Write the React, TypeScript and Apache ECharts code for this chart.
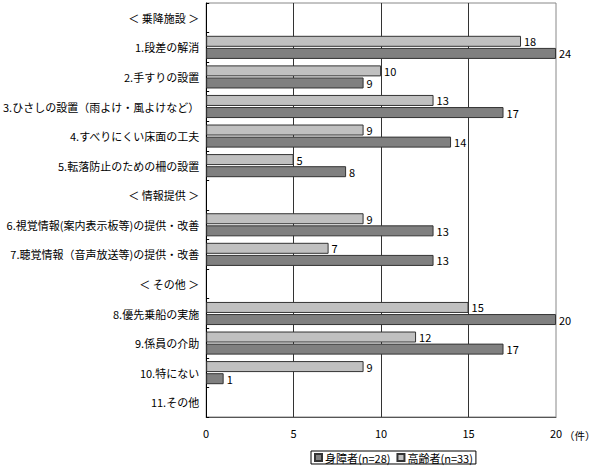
import React, { useEffect, useRef } from "react";
import * as echarts from "echarts";

const categories = [
  "＜ 乗降施設 ＞",
  "1.段差の解消",
  "2.手すりの設置",
  "3.ひさしの設置（雨よけ・風よけなど）",
  "4.すべりにくい床面の工夫",
  "5.転落防止のための柵の設置",
  "＜ 情報提供 ＞",
  "6.視覚情報(案内表示板等)の提供・改善",
  "7.聴覚情報（音声放送等)の提供・改善",
  "＜ その他 ＞",
  "8.優先乗船の実施",
  "9.係員の介助",
  "10.特にない",
  "11.その他",
];

const elderly: (number | null)[] = [null, 18, 10, 13, 9, 5, null, 9, 7, null, 15, 12, 9, null];
const disabled: (number | null)[] = [null, 24, 9, 17, 14, 8, null, 13, 13, null, 20, 17, 1, null];

const seriesNames = ["身障者(n=28)", "高齢者(n=33)"];
const xTicks = [0, 5, 10, 15, 20];
const AXIS_MAX = 20;
const FONT = "'Noto Sans CJK JP', sans-serif";

function toData(vals: (number | null)[]) {
  return vals.map((v) =>
    v == null ? null : { value: Math.min(v, AXIS_MAX), raw: v }
  );
}

export default function App() {
  const ref = useRef<HTMLDivElement>(null);
  useEffect(() => {
    if (!ref.current) return;
    const chart = echarts.init(ref.current, undefined, { renderer: "svg" });
    const labelCfg = {
      show: true,
      position: "right",
      distance: 3,
      fontSize: 11,
      color: "#000",
      fontFamily: FONT,
      formatter: (p: any) => (p.data && p.data.raw != null ? String(p.data.raw) : ""),
    };
    chart.setOption({
      animation: false,
      textStyle: { fontFamily: FONT },
      grid: {
        left: 205,
        right: 44,
        top: 3,
        bottom: 53,
        show: true,
        borderColor: "#888",
        borderWidth: 1,
        backgroundColor: "transparent",
      },
      legend: {
        data: seriesNames,
        left: 311,
        top: 451,
        orient: "horizontal",
        icon: "rect",
        itemWidth: 7,
        itemHeight: 7,
        itemGap: 6,
        padding: [1, 3, 1, 3],
        borderColor: "#000",
        borderWidth: 1,
        textStyle: { fontSize: 11, color: "#000", fontFamily: FONT, padding: [0, 0, 0, -2] },
      },
      xAxis: {
        type: "value",
        min: xTicks[0],
        max: xTicks[xTicks.length - 1],
        interval: 5,
        axisLine: { show: true, lineStyle: { color: "#555", width: 1 } },
        axisTick: { show: false },
        axisLabel: { fontSize: 11, color: "#000", margin: 10, fontFamily: FONT },
        splitLine: {
          show: true,
          showMinLine: false,
          showMaxLine: false,
          lineStyle: { color: "#333", width: 1 },
        },
      },
      yAxis: {
        type: "category",
        data: categories,
        inverse: true,
        axisLine: { show: true, lineStyle: { color: "#000", width: 1 } },
        axisTick: { show: true, inside: true, length: 3, lineStyle: { color: "#000" } },
        axisLabel: { fontSize: 11, color: "#000", margin: 7, fontFamily: FONT },
        splitLine: { show: false },
      },
      graphic: [
        {
          type: "text",
          left: 564,
          top: 430,
          style: { text: "（件）", fontSize: 10.5, fill: "#000", fontFamily: FONT },
        },
      ],
      series: [
        {
          name: seriesNames[1],
          type: "bar",
          data: toData(elderly),
          barWidth: 11,
          barGap: "10%",
          itemStyle: { color: "#c0c0c0", borderColor: "#333", borderWidth: 1 },
          label: labelCfg,
        },
        {
          name: seriesNames[0],
          type: "bar",
          data: toData(disabled),
          barWidth: 11,
          barGap: "10%",
          itemStyle: { color: "#808080", borderColor: "#333", borderWidth: 1 },
          label: labelCfg,
        },
      ],
    });
    return () => chart.dispose();
  }, []);
  return (
    <div
      ref={ref}
      style={{ position: "absolute", left: 0, top: 0, width: 600, height: 470 }}
    />
  );
}
